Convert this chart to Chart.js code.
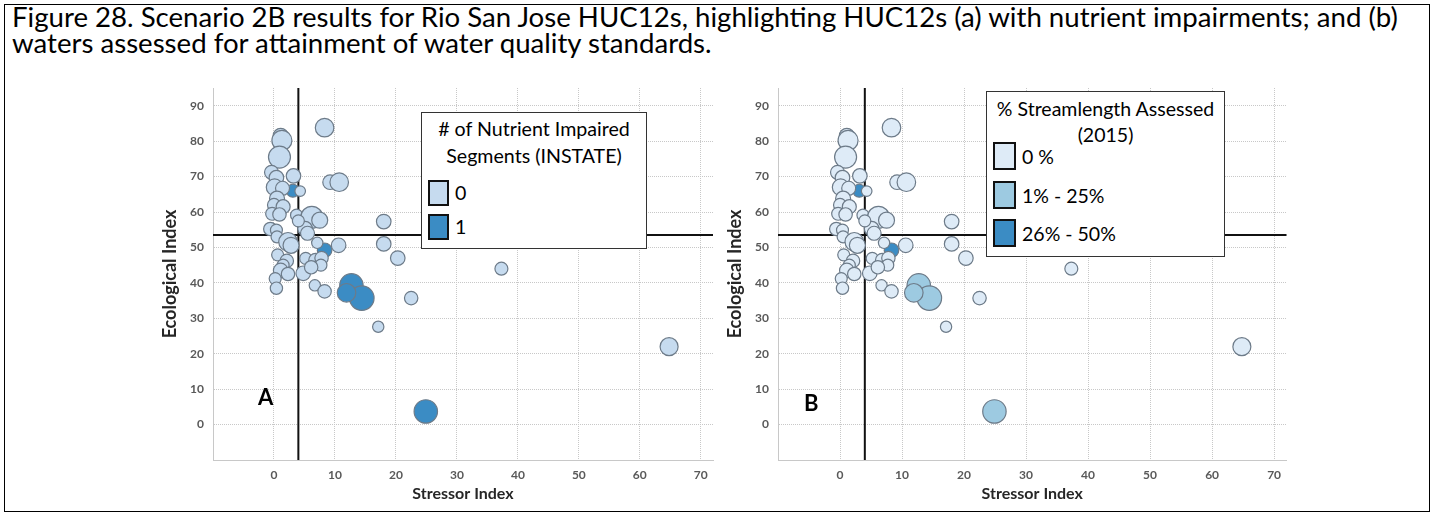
<!DOCTYPE html>
<html>
<head>
<meta charset="utf-8">
<title>Figure 28</title>
<script src="https://cdn.jsdelivr.net/npm/chart.js@4.4.1/dist/chart.umd.min.js"></script>
<style>
  body { margin:0; width:1439px; height:520px; background:#fff; position:relative; overflow:hidden; font-family:Lato, "Open Sans", sans-serif; color:#000; }
  #frame { position:absolute; left:4px; top:4px; width:1426px; height:508px; border:1.5px solid #000; box-sizing:border-box; }
  .cap { position:absolute; left:12px; white-space:nowrap; line-height:26px; }
  canvas { position:absolute; }
  .legend { position:absolute; background:#fff; border:1.5px solid #333; box-sizing:border-box; }
  .legend .ttl { position:absolute; left:0; right:0; text-align:center; white-space:nowrap; line-height:24px; }
  .legend .sw { position:absolute; border:2px solid #111; box-sizing:border-box; }
  .legend .lb { position:absolute; white-space:nowrap; line-height:24px; }
  .tag { position:absolute; font-weight:bold; font-size:22px; line-height:22px; }
</style>
</head>
<body>
<div id="frame"></div>
<div class="cap" id="cap1" style="top:4px">Figure 28. Scenario 2B results for Rio San Jose HUC12s, highlighting HUC12s (a) with nutrient impairments; and (b)</div>
<div class="cap" id="cap2" style="top:30px">waters assessed for attainment of water quality standards.</div>

<canvas id="chartA" width="580" height="445" style="left:150px;top:70px"></canvas>
<canvas id="chartB" width="585" height="445" style="left:715px;top:70px"></canvas>

<div class="tag" style="left:258px;top:386px">A</div>
<div class="tag" style="left:804px;top:392px">B</div>

<div class="legend" id="legA" style="left:421px;top:112px;width:226px;height:137px">
  <div class="ttl fitA" style="top:4px"># of Nutrient Impaired</div>
  <div class="ttl fitA" style="top:31px">Segments (INSTATE)</div>
  <div class="sw" id="swA0" style="left:6px;top:67px;width:21px;height:26px"></div>
  <div class="lb fitA" style="left:33px;top:68px">0</div>
  <div class="sw" id="swA1" style="left:6px;top:101px;width:21px;height:26px"></div>
  <div class="lb fitA" style="left:33px;top:102px">1</div>
</div>

<div class="legend" id="legB" style="left:986px;top:91px;width:239px;height:166px">
  <div class="ttl fitB" style="top:5px">% Streamlength Assessed</div>
  <div class="ttl fitB" style="top:31px">(2015)</div>
  <div class="sw" id="swB0" style="left:6px;top:50px;width:23px;height:28px"></div>
  <div class="lb fitB" style="left:35px;top:53px">0 %</div>
  <div class="sw" id="swB1" style="left:6px;top:89px;width:23px;height:28px"></div>
  <div class="lb fitB" style="left:35px;top:92px">1% - 25%</div>
  <div class="sw" id="swB2" style="left:6px;top:127px;width:23px;height:28px"></div>
  <div class="lb fitB" style="left:35px;top:130px">26% - 50%</div>
</div>

<script>
// data (one entry per HUC12)
const stressX = [8.3, 1.1, 1.3, 0.9, -0.4, 3.2, 0.4, 3.1, 0.1, 1.4, 4.3, 0.5, 9.2, 10.7,
  0.0, 1.5, -0.3, 0.9, 3.7, 6.2, 7.5, 18.0, -0.6, 0.4, 5.1, 0.5, 4.0, 5.5,
  2.3, 2.8, 8.3, 7.1, 10.6, 18.0, 20.3, 0.6, 2.1, 5.2, 6.8, 7.8, 7.7, 1.5,
  1.1, 2.3, 4.8, 6.1, 0.2, 0.4, 6.7, 8.3, 12.7, 14.4, 11.9, 22.5, 17.1, 37.3, 64.8, 24.9];
const ecoY = [83.8, 81.5, 80.2, 75.5, 71.2, 70.2, 69.7, 66.0, 67.0, 66.7, 65.9, 63.8, 68.4, 68.4,
  62.0, 61.5, 59.5, 59.3, 59.1, 58.5, 57.7, 57.3, 55.2, 54.9, 55.3, 53.0, 57.5, 54.0,
  51.6, 50.6, 49.2, 51.3, 50.6, 51.0, 47.0, 47.9, 46.2, 46.9, 46.4, 47.0, 45.0, 45.0,
  43.5, 42.5, 42.7, 44.4, 41.2, 38.5, 39.3, 37.6, 39.3, 35.7, 37.2, 35.7, 27.6, 44.0, 22.0, 3.7];
const bubbleSize = [86, 56, 100, 121, 49, 53, 53, 42, 69, 49, 28, 56, 53, 86,
  42, 49, 42, 45, 36, 121, 64, 53, 45, 36, 53, 36, 36, 49,
  86, 64, 53, 32, 53, 53, 53, 36, 45, 36, 45, 45, 36, 36,
  53, 45, 53, 45, 36, 38, 32, 45, 137, 151, 86, 45, 32, 42, 81, 137];
// # of nutrient impaired segments (0 / 1)
const nutrientSeg = [0, 0, 0, 0, 0, 0, 0, 1, 0, 0, 0, 0, 0, 0,
  0, 0, 0, 0, 0, 0, 0, 0, 0, 0, 0, 0, 0, 0,
  0, 0, 1, 0, 0, 0, 0, 0, 0, 0, 0, 0, 0, 0,
  0, 0, 0, 0, 0, 0, 0, 0, 1, 1, 1, 0, 0, 0, 0, 1];
// % streamlength assessed class: 0 = 0 %, 1 = 1%-25%, 2 = 26%-50%
const assessedCls = [0, 0, 0, 0, 0, 0, 0, 2, 0, 0, 0, 0, 0, 0,
  0, 0, 0, 0, 0, 0, 0, 0, 0, 0, 0, 0, 0, 0,
  0, 0, 2, 0, 0, 0, 0, 0, 0, 0, 0, 0, 0, 0,
  0, 0, 0, 0, 0, 0, 0, 0, 1, 1, 1, 0, 0, 0, 0, 1];
const xTickLabels = [0, 10, 20, 30, 40, 50, 60, 70];
const yTickLabels = [0, 10, 20, 30, 40, 50, 60, 70, 80, 90];
const xThreshold = 4;
const yThreshold = 53.5;

const colorsA = ['#c6dbef', '#3b8cc4'];
const colorsB = ['#deebf7', '#9dcae1', '#3b8cc4'];
const fontFam = 'Lato, "Open Sans", sans-serif';

// caption and legend text sized to the figure
function fitFont(els, sample, target, weight) {
  var c = document.createElement('canvas').getContext('2d');
  c.font = (weight || 'normal') + ' 20px ' + fontFam;
  var size = 20 * target / c.measureText(sample).width;
  els.forEach(function(el){ el.style.fontSize = size.toFixed(2) + 'px'; });
}
fitFont([cap1, cap2], cap1.textContent, 1388);
fitFont(Array.from(document.querySelectorAll('.fitA')), '# of Nutrient Impaired', 192);
fitFont(Array.from(document.querySelectorAll('.fitB')), '% Streamlength Assessed', 218);

swA0.style.background = colorsA[0]; swA1.style.background = colorsA[1];
swB0.style.background = colorsB[0]; swB1.style.background = colorsB[1]; swB2.style.background = colorsB[2];

const thresholdLines = {
  id: 'thresholdLines',
  beforeDatasetsDraw(chart) {
    const {ctx, chartArea: a, scales: {x, y}} = chart;
    const px = x.getPixelForValue(xThreshold);
    const py = y.getPixelForValue(yThreshold);
    ctx.save();
    ctx.strokeStyle = '#111';
    ctx.lineWidth = 2;
    ctx.beginPath();
    ctx.moveTo(px, a.top); ctx.lineTo(px, a.bottom);
    ctx.moveTo(a.left, py); ctx.lineTo(a.right, py);
    ctx.stroke();
    ctx.restore();
  }
};

function makeChart(id, colors, cls, padRight) {
  var points = stressX.map(function(x, i){
    return {x: x, y: ecoY[i], r: Math.sqrt(bubbleSize[i])};
  });
  return new Chart(document.getElementById(id), {
    type: 'bubble',
    data: {
      datasets: [{
        data: points,
        backgroundColor: cls.map(function(c){ return colors[c]; }),
        borderColor: '#6d7b89',
        borderWidth: 1.2
      }]
    },
    options: {
      responsive: false,
      animation: false,
      layout: { padding: { top: 18, right: padRight, left: 0, bottom: 0 } },
      plugins: { legend: { display: false }, tooltip: { enabled: false } },
      scales: {
        x: {
          type: 'linear', min: -10, max: 72,
          ticks: {
            stepSize: 10, includeBounds: false, padding: 8, color: '#595959',
            font: { family: fontFam, size: 12, weight: 'bold' },
            callback: function(v){ return xTickLabels.includes(v) ? v : ''; }
          },
          grid: { color: '#c8c8c8', drawTicks: false },
          border: { color: '#c8c8c8', dash: [1, 1] },
          title: {
            display: true, text: 'Stressor Index', color: '#262626',
            font: { family: fontFam, size: 16, weight: 'bold' },
            padding: { top: 0, bottom: 12 }
          },
          afterFit: function(s){ s.height = 55; }
        },
        y: {
          type: 'linear', min: -10, max: 95,
          ticks: {
            stepSize: 10, includeBounds: false, padding: 9, color: '#595959',
            font: { family: fontFam, size: 12, weight: 'bold' },
            callback: function(v){ return yTickLabels.includes(v) ? v : ''; }
          },
          grid: { color: '#c8c8c8', drawTicks: false },
          border: { color: '#c8c8c8', dash: [1, 1] },
          title: {
            display: true, text: 'Ecological Index', color: '#262626',
            font: { family: fontFam, size: 18, weight: 'bold' },
            padding: { top: 9, bottom: 0 }
          },
          afterFit: function(s){ s.width = 63; }
        }
      }
    },
    plugins: [thresholdLines]
  });
}

makeChart('chartA', colorsA, nutrientSeg, 17);
makeChart('chartB', colorsB, assessedCls, 13);
</script>
</body>
</html>
